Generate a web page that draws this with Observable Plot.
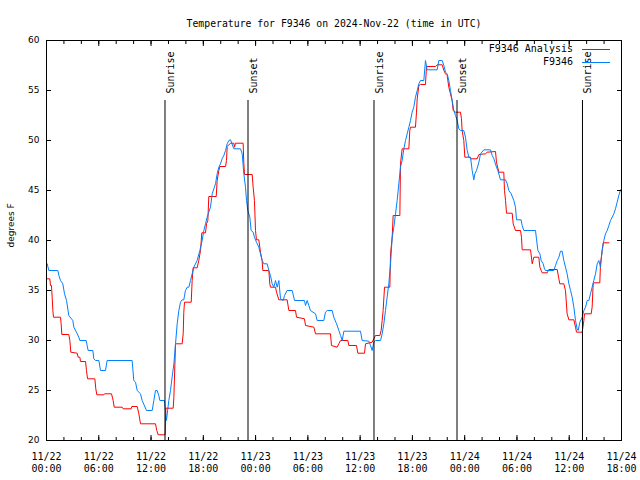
<!DOCTYPE html>
<html>
<head>
<meta charset="utf-8">
<script src="https://cdn.jsdelivr.net/npm/d3@7"></script>
<script src="https://cdn.jsdelivr.net/npm/@observablehq/plot@0.6"></script>
<style>
  html, body { margin: 0; padding: 0; background: #fff; }
  #chart { width: 640px; height: 480px; }
</style>
</head>
<body>
<div id="chart"></div>
<script>
// ---- Data (hours since 2024-11-22 00:00 UTC, temperature in °F) ----
const titleText = "Temperature for F9346 on 2024-Nov-22 (time in UTC)";
const yLabelText = "degrees F";
const seriesNames = ["F9346 Analysis", "F9346"];
const seriesColors = ["#ff0000", "#0080ff"];

const xTickHours = [0, 6, 12, 18, 24, 30, 36, 42, 48, 54, 60, 66];
const xTickLabels = ["11/22\n00:00", "11/22\n06:00", "11/22\n12:00", "11/22\n18:00",
  "11/23\n00:00", "11/23\n06:00", "11/23\n12:00", "11/23\n18:00",
  "11/24\n00:00", "11/24\n06:00", "11/24\n12:00", "11/24\n18:00"];
const xMinorHours = [0,2,4,6,8,10,12,14,16,18,20,22,24,26,28,30,32,34,36,38,40,42,44,46,48,50,52,54,56,58,60,62,64,66];
const yTicks = [20, 25, 30, 35, 40, 45, 50, 55, 60];

const eventHours = [13.6, 23.13, 37.59, 47.12, 61.52];
const eventLabels = ["Sunrise", "Sunset", "Sunrise", "Sunset", "Sunrise"];

const analysisHours = [0.08,0.38,0.46,0.57,0.65,0.73,0.80,1.61,1.68,1.76,2.56,2.68,2.79,3.52,3.63,3.83,3.90,4.48,4.59,4.71,5.55,5.66,5.78,6.58,6.66,7.46,7.65,7.77,8.69,8.80,9.72,9.79,10.41,10.60,10.79,12.51,12.66,12.82,13.62,13.70,14.54,14.62,14.81,15.57,15.69,15.76,15.84,16.61,16.72,16.83,17.29,17.48,17.68,17.83,18.25,18.37,18.52,18.63,19.48,19.59,19.78,19.90,20.55,20.66,20.74,21.12,21.50,21.58,21.69,22.57,22.65,22.73,23.61,23.72,23.87,23.99,24.10,24.37,24.56,24.75,24.83,25.52,25.63,25.71,26.29,26.40,26.67,27.62,27.82,28.58,28.70,29.61,29.73,30.69,30.88,32.60,32.71,33.36,33.55,33.75,34.59,34.70,35.58,35.74,36.50,36.62,37.38,37.57,37.76,38.26,38.41,38.53,38.64,38.80,39.41,39.49,39.68,39.79,40.56,40.63,40.82,41.59,41.70,41.78,42.35,42.47,42.55,42.74,42.93,43.50,43.62,44.65,44.84,45.42,45.61,45.80,45.99,46.18,46.37,46.56,46.68,46.95,47.52,47.63,47.71,47.90,48.02,48.59,48.67,49.43,49.63,50.39,50.58,51.54,51.65,51.92,52.49,52.57,52.69,52.80,53.45,53.57,53.83,54.41,54.52,54.60,55.56,55.75,55.94,56.51,56.63,56.78,56.89,57.47,57.66,58.62,58.81,58.92,59.38,59.57,59.76,59.96,60.53,60.72,60.84,61.49,61.68,61.75,62.52,62.63,62.75,62.82,63.51,63.59,63.78,63.90,64.55];
const analysisTemps = [36.17,36.17,35.5,35.5,34.33,33.0,32.33,32.33,31.67,30.6,30.6,30.0,28.83,28.73,28.33,28.33,27.9,27.9,27.0,26.17,26.17,25.17,24.57,24.57,24.67,24.67,24.0,23.33,23.33,23.17,23.17,23.4,23.4,22.67,21.67,21.67,21.0,20.57,20.57,23.23,23.23,24.33,29.67,29.67,30.67,32.83,33.83,33.83,36.0,37.27,37.27,38.0,39.0,40.77,40.77,41.67,42.0,44.4,44.4,46.0,47.0,47.4,47.4,48.0,49.4,49.73,49.73,49.33,49.73,49.73,47.67,46.6,46.6,45.33,44.0,41.0,40.07,40.07,38.83,38.0,37.0,37.0,35.67,35.33,35.33,34.83,34.07,34.07,33.0,33.0,32.33,32.17,31.5,31.33,30.67,30.67,29.5,29.33,29.67,30.0,30.0,29.5,29.5,28.73,28.73,29.67,29.83,30.17,30.5,30.5,31.0,32.0,33.0,35.33,35.33,38.67,40.33,42.5,42.5,47.67,49.17,49.17,51.0,51.33,51.33,52.83,54.17,55.5,55.6,55.6,57.4,57.4,57.57,57.57,57.0,56.67,56.5,55.33,54.67,54.0,53.0,52.83,52.83,52.17,51.0,50.0,48.33,48.33,48.17,48.17,48.6,48.67,48.83,48.9,47.83,46.83,46.83,45.0,44.0,42.73,42.73,41.67,41.0,41.0,40.33,39.07,39.07,37.67,38.33,38.33,37.33,37.0,36.77,36.77,37.1,37.1,36.17,35.67,35.67,35.0,32.67,32.07,32.07,31.33,30.83,30.83,32.0,32.67,32.67,33.33,35.67,35.77,35.77,37.67,39.0,39.77,39.77];

const observedHours = [0.08,0.27,1.30,1.42,1.61,1.87,2.07,2.30,2.56,3.02,3.14,3.44,3.71,3.83,4.55,4.67,4.78,5.32,5.43,5.62,6.01,6.20,6.77,6.96,9.83,10.02,10.22,10.41,10.79,10.98,11.48,12.13,12.32,12.51,12.70,12.89,13.01,13.54,13.77,14.04,14.23,14.42,14.62,14.81,15.00,15.19,15.38,15.57,15.76,15.95,16.15,16.34,16.53,16.72,16.91,17.29,17.60,17.87,18.06,18.25,18.44,18.82,19.02,19.40,19.59,19.78,19.97,20.16,20.35,20.55,20.74,20.93,21.12,21.50,22.27,22.46,22.65,22.84,22.96,23.11,23.34,23.49,23.72,23.87,24.10,24.37,24.56,24.75,24.95,25.33,25.52,25.71,25.90,26.09,26.29,26.48,26.67,26.86,27.17,27.32,27.62,28.20,28.47,29.61,29.73,29.92,30.11,30.30,30.88,31.07,31.83,32.02,32.22,32.79,32.98,33.29,33.56,33.75,33.94,34.13,36.04,36.23,37.00,37.19,37.38,37.57,37.76,38.34,38.53,38.72,38.91,39.10,39.29,39.49,39.68,39.87,40.06,40.25,40.44,40.63,40.82,41.02,41.21,41.40,41.59,41.78,41.97,42.16,42.35,42.55,42.74,42.93,43.31,43.50,43.69,44.84,45.03,45.42,45.61,45.80,45.99,46.18,46.37,46.56,46.76,46.95,47.14,47.33,47.52,47.90,48.09,48.29,48.48,48.67,48.86,49.05,49.17,49.36,49.63,49.82,50.20,50.96,51.16,51.35,51.65,51.81,52.11,52.69,52.88,53.07,53.34,53.64,53.83,53.95,54.48,54.60,54.79,56.13,56.24,56.40,56.63,56.78,57.01,57.16,57.28,58.23,58.42,58.63,58.81,59.00,59.19,59.38,59.57,59.76,59.96,60.15,60.34,60.53,60.72,60.91,61.03,61.22,61.49,61.68,61.87,62.06,62.25,62.44,62.63,62.82,63.02,63.21,63.40,63.59,63.78,63.97,64.16,64.36,64.55,64.74,64.93,65.12,65.31,65.50,65.69,65.89];
const observedTemps = [37.67,37.0,37.0,36.5,36.0,35.67,34.67,34.0,32.5,32.0,31.33,30.83,30.33,30.0,30.0,29.5,29.0,29.0,28.17,28.0,28.0,27.0,27.0,28.0,28.0,26.0,25.83,25.0,24.67,24.0,23.0,23.0,24.0,25.0,25.0,24.5,24.0,24.0,22.0,24.0,25.0,26.33,27.67,29.67,31.67,33.0,33.83,34.07,34.07,35.0,35.33,35.33,36.0,36.67,37.33,38.0,39.0,40.0,41.0,41.67,42.33,43.33,44.67,45.67,46.67,47.33,47.67,48.17,48.5,49.0,49.67,50.0,50.07,49.17,49.17,48.67,46.67,45.33,44.0,43.0,42.33,41.0,40.83,40.33,39.83,39.33,38.67,38.0,37.67,37.67,37.0,36.5,35.67,35.33,36.0,35.33,36.0,34.17,34.0,34.5,35.0,35.0,34.0,34.0,33.5,34.0,33.5,33.0,32.67,32.0,32.0,32.83,33.0,33.0,32.33,31.67,31.0,30.5,30.0,30.93,30.93,30.0,29.93,29.5,29.0,29.83,30.0,30.0,30.67,31.67,33.0,34.33,35.67,37.67,40.33,41.33,42.67,44.0,45.67,47.33,48.0,49.17,50.0,50.67,51.33,52.0,52.83,53.33,54.33,55.0,55.67,56.0,56.0,58.0,57.07,57.07,58.0,58.0,57.5,56.83,56.67,56.0,55.0,54.0,53.0,52.5,52.0,51.17,51.0,51.0,50.33,49.0,48.33,48.33,47.0,46.07,46.67,47.0,47.83,48.67,49.07,49.07,48.5,48.17,47.33,47.0,46.07,46.07,45.67,45.0,44.67,44.0,43.33,42.07,42.07,41.5,41.0,41.0,40.17,39.0,38.67,38.0,37.67,37.17,37.0,37.0,37.5,38.0,38.33,38.93,38.93,38.0,37.33,36.67,35.67,35.0,34.33,33.33,32.0,31.17,31.0,31.83,32.33,33.0,33.33,34.0,34.0,34.67,35.33,36.0,36.67,37.67,38.0,37.33,39.0,40.0,40.67,41.0,41.5,42.0,42.33,42.67,43.17,43.83,44.5,45.07];

// ---- Build tables ----
const analysis = analysisHours.map((h, i) => ({h, t: analysisTemps[i]}));
const observed = observedHours.map((h, i) => ({h, t: observedTemps[i]}));
const xTicks = xTickHours.map((h, i) => ({h, label: xTickLabels[i]}));
const events = eventHours.map((h, i) => ({h, label: eventLabels[i]}));

const mono = "'DejaVu Sans Mono', 'Liberation Mono', monospace";
const sans = "'DejaVu Sans', 'Liberation Sans', sans-serif";
const blank = () => "";

const chart = Plot.plot({
  width: 640,
  height: 480,
  marginLeft: 46,
  marginRight: 19,
  marginTop: 40,
  marginBottom: 40,
  x: {domain: [0, 66]},
  y: {domain: [20, 60]},
  style: {fontFamily: mono, fontSize: "10px", background: "#fff", color: "#000", overflow: "visible"},
  marks: [
    // series
    Plot.line(analysis, {x: "h", y: "t", stroke: seriesColors[0], strokeWidth: 1}),
    Plot.line(observed, {x: "h", y: "t", stroke: seriesColors[1], strokeWidth: 1}),
    // frame and inward ticks
    Plot.frame({stroke: "#000"}),
    Plot.axisX(xMinorHours, {anchor: "bottom", tickSize: -3, tickFormat: blank, label: null}),
    Plot.axisX(xMinorHours, {anchor: "top", tickSize: -3, tickFormat: blank, label: null}),
    Plot.axisX(xTickHours, {anchor: "bottom", tickSize: -5, tickFormat: blank, label: null}),
    Plot.axisX(xTickHours, {anchor: "top", tickSize: -5, tickFormat: blank, label: null}),
    Plot.axisY(yTicks, {anchor: "left", tickSize: -5, tickFormat: blank, label: null}),
    Plot.axisY(yTicks, {anchor: "right", tickSize: -5, tickFormat: blank, label: null}),
    Plot.axisY(yTicks, {anchor: "left", tickSize: 0, tickPadding: 7, fontFamily: sans, fontSize: 9, label: null}),
    // x tick labels (two lines)
    Plot.text(xTicks, {x: "h", text: "label", frameAnchor: "bottom", lineAnchor: "top", dy: 11, lineHeight: 1.17, fontFamily: mono, fontSize: 10}),
    // sunrise / sunset markers
    Plot.ruleX(events, {x: "h", insetTop: 60, stroke: "#000", strokeWidth: 1}),
    Plot.text(events, {x: "h", text: "label", frameAnchor: "top", rotate: -90, textAnchor: "start", dy: 53, dx: 1.5, fontFamily: mono, fontSize: 10}),
    // title and y label
    Plot.text([titleText], {frameAnchor: "top", dy: -20, fontFamily: mono, fontSize: 9.8}),
    Plot.text([yLabelText], {frameAnchor: "left", rotate: -90, dx: -35, dy: 7, fontFamily: sans, fontSize: 9})
  ]
});

// legend (top-right, inside frame)
const svg = d3.select(chart);
const frameRight = 640 - 19;
const lg = svg.append("g").attr("font-family", mono).attr("font-size", 10);
seriesNames.forEach((name, i) => {
  const y = 49 + i * 13;
  lg.append("text").attr("x", frameRight - 48).attr("y", y).attr("dy", "0.32em")
    .attr("text-anchor", "end").attr("fill", "#000").text(name);
  lg.append("line").attr("x1", frameRight - 39).attr("x2", frameRight - 11)
    .attr("y1", y + 0.5).attr("y2", y + 0.5)
    .attr("stroke", seriesColors[i]).attr("stroke-width", 1);
});

document.getElementById("chart").appendChild(chart);
</script>
</body>
</html>
